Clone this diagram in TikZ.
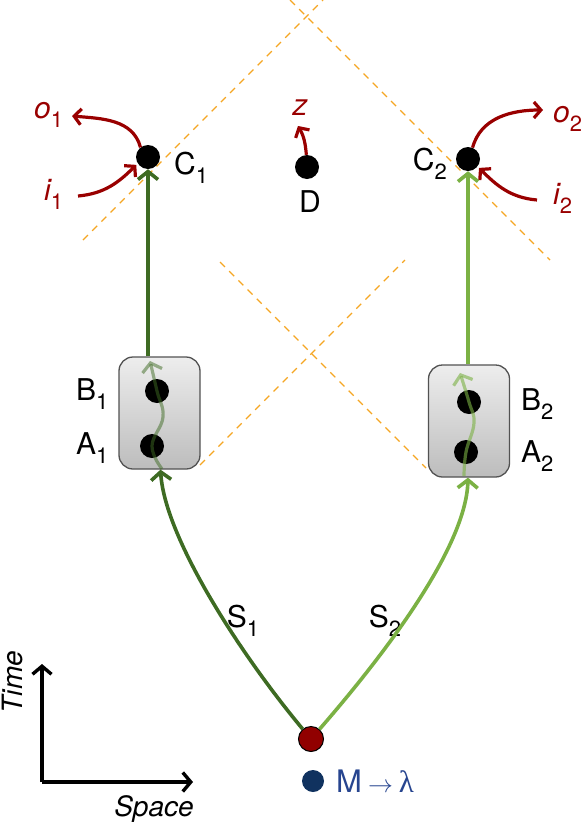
\documentclass[tikz,border=0pt]{standalone}
\usepackage{fontspec}
\setmainfont{TeX Gyre Heros}
\newfontfamily\grserif{Liberation Serif}
\usetikzlibrary{arrows.meta,calc}
\definecolor{dgreen}{HTML}{3E6B23}
\definecolor{lgreen}{HTML}{7BB144}
\definecolor{dred}{HTML}{990000}
\definecolor{cone}{HTML}{F5A623}
\definecolor{navy}{HTML}{10325F}
\definecolor{mblue}{HTML}{27458F}
\newcommand\sbs[1]{\raisebox{-0.3em}{\fontsize{22}{22}\selectfont #1}}
\tikzset{
  dot/.style={circle,fill=black,inner sep=0pt,minimum size=24pt},
  lbl/.style={font=\fontsize{30}{35}\selectfont,inner sep=0pt},
  conedash/.style={draw=cone,line width=1.3pt,dash pattern=on 7pt off 6pt},
  labbox/.style={draw=black!68,line width=1.3pt,rounded corners=14pt,top color=black!7,bottom color=black!26,minimum width=81pt,minimum height=112pt,inner sep=0pt},
  gtip/.style={-{Straight Barb[length=8pt,width=20pt]}},
  rtip/.style={-{Straight Barb[length=7pt,width=16pt]}},
  darr/.style={gtip,draw=dgreen,line width=3.6pt},
  larr/.style={gtip,draw=lgreen,line width=3.6pt},
  redarr/.style={rtip,draw=dred,line width=3.2pt},
  axisarr/.style={-{Straight Barb[length=8pt,width=19pt]},draw=black,line width=3.4pt},
}
\begin{document}
\begin{tikzpicture}[x=1pt,y=1pt]
\useasboundingbox (0,0) rectangle (585,-825);

% light cones
\draw[conedash] (83,-240) -- (323,0);
\draw[conedash] (290,0) -- (550,-260);
\draw[conedash] (200,-465) -- (405,-260);
\draw[conedash] (220,-262) -- (426,-468);

% lab boxes
\node[labbox] (box1) at (159.5,-413) {};
\node[labbox] (box2) at (469,-421) {};

% dots
\node[dot] (C1) at (148,-157) {};
\node[dot] (C2) at (468,-159) {};
\node[dot] (D) at (307,-167) {};
\node[dot] (B1) at (157,-391) {};
\node[dot] (A1) at (152,-446) {};
\node[dot] (B2) at (469,-402) {};
\node[dot] (A2) at (466,-452) {};
\node[circle,draw=black,line width=1pt,fill=dred!95!black,inner sep=0pt,minimum size=25pt] (src) at (311,-739) {};
\node[circle,fill=navy,inner sep=0pt,minimum size=22pt] (mdot) at (313,-781) {};

% labels
\node[lbl,anchor=base west] (C1l) at (174,-174) {C\sbs{1}};
\node[lbl,anchor=base east] (C2l) at (447,-170) {C\sbs{2}};
\node[lbl,anchor=base] (Dl) at (310,-212) {D};
\node[lbl,anchor=base west] (B1l) at (76,-400) {B\sbs{1}};
\node[lbl,anchor=base west] (A1l) at (76,-454) {A\sbs{1}};
\node[lbl,anchor=base west] (B2l) at (521,-410) {B\sbs{2}};
\node[lbl,anchor=base west] (A2l) at (521,-462) {A\sbs{2}};
\node[lbl,anchor=base] (S1l) at (243,-627) {S\sbs{1}};
\node[lbl,anchor=base] (S2l) at (385,-627) {S\sbs{2}};
\node[lbl,anchor=base west,text=dred] (o1l) at (34,-118) {\itshape o\upshape\sbs{1}};
\node[lbl,anchor=base west,text=dred] (i1l) at (44,-200) {\itshape i\upshape\sbs{1}};
\node[lbl,anchor=base west,text=dred] (o2l) at (553,-122) {\itshape o\upshape\sbs{2}};
\node[lbl,anchor=base west,text=dred] (i2l) at (553,-204) {\itshape i\upshape\sbs{2}};
\node[lbl,anchor=base,text=dred] (zl) at (300,-115) {\itshape z};
\node[lbl,anchor=west,text=mblue,font=\fontsize{31}{36}\selectfont] (ml) at (336,-781) {M\hspace{6pt}{\fontsize{26}{26}\selectfont$\rightarrow$}\hspace{6pt}{\grserif λ}};
\node[lbl,font=\fontsize{28}{32}\selectfont\itshape,rotate=90] (timel) at (13,-682) {Time};
\node[lbl,font=\fontsize{28}{32}\selectfont\itshape] (spacel) at (154,-809) {Space};

% red in/out arrows
\coordinate (o1tip) at (72,-116);
\coordinate (i1start) at (78,-196);
\coordinate (o2tip) at (543,-110);
\coordinate (i2start) at (537,-200);
\coordinate (ztip) at (298,-126);
\draw[redarr] (C1.128) to[out=105,in=-5] (o1tip);
\draw[redarr,shorten >=2pt] (i1start) to[out=5,in=225] (C1.212);
\draw[redarr] (C2.68) to[out=75,in=180] (o2tip);
\draw[redarr,shorten >=2pt] (i2start) to[out=175,in=-45] (C2.-38);
\draw[redarr] (D.93) to[out=95,in=-60] (ztip);

% source curves
\draw[darr] (src) .. controls (245,-660) and (165,-540) .. ($(box1.south)+(1,0)$);
\draw[larr] (src) .. controls (378,-662) and (466,-550) .. ($(box2.south)+(-1,0)$);

% vertical signals to C
\draw[darr] (C1 |- box1.north) -- (C1);
\draw[larr] (C2 |- box2.north) -- (C2);

% wavy arrows inside boxes
\coordinate (w1s) at (162,-469);
\coordinate (w1m) at (163,-417);
\coordinate (w1e) at (150,-361);
\coordinate (w2s) at (464,-476);
\coordinate (w2m) at (474,-423);
\coordinate (w2e) at (460,-373);
\draw[gtip,draw=dgreen,line width=3.2pt,draw opacity=0.5] plot[smooth,tension=0.7] coordinates {(w1s) (A1) (w1m) (B1) (w1e)};
\draw[gtip,draw=lgreen,line width=3.2pt,draw opacity=0.6] plot[smooth,tension=0.7] coordinates {(w2s) (A2) (w2m) (B2) (w2e)};

% axes
\coordinate (orig) at (42,-782);
\coordinate (ttip) at (42,-664);
\coordinate (stip) at (193,-782);
\draw[axisarr] (orig) -- (ttip);
\draw[axisarr] (orig) -- (stip);
\end{tikzpicture}
\end{document}
